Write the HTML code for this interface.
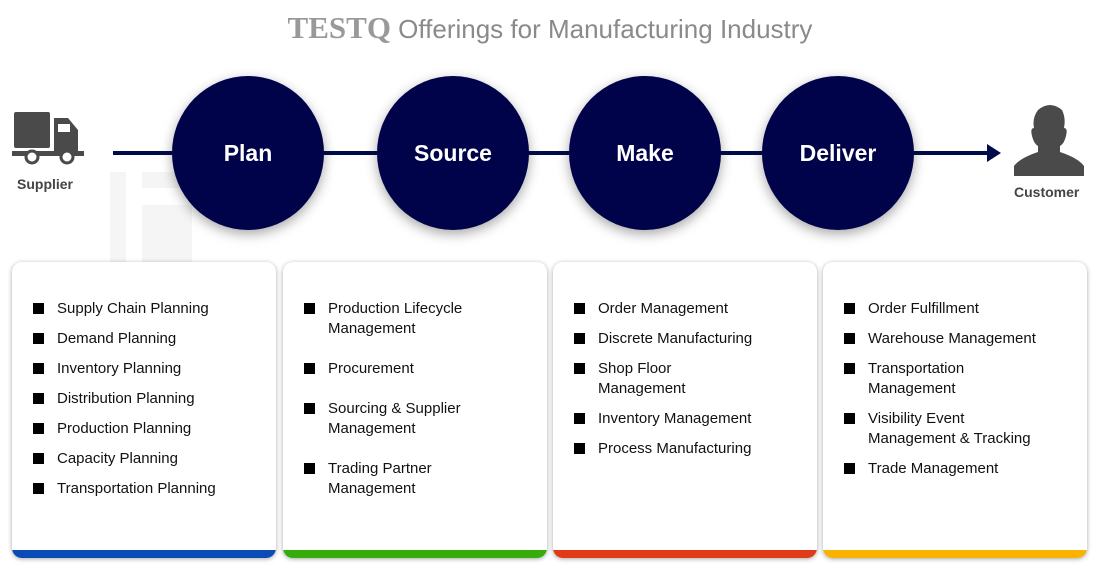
<!DOCTYPE html>
<html><head><style>
body{margin:0;width:1100px;height:585px;background:#fff;position:relative;font-family:"Liberation Sans",sans-serif;overflow:hidden}
.title{position:absolute;top:10px;left:0;width:1100px;text-align:center;color:#8a8a8a;font-size:26px}
.title b{font-family:"Liberation Serif",serif;color:#999;font-size:31px}
.line{position:absolute;left:113px;top:151px;width:877px;height:4px;background:#000b4a}
.arrow{position:absolute;left:987px;top:144px;border-left:14px solid #000b4a;border-top:9px solid transparent;border-bottom:9px solid transparent}
.c{position:absolute;top:76px;width:152px;height:154px;border-radius:50%;background:#00034a;color:#fff;font-size:23px;font-weight:bold;display:flex;align-items:center;justify-content:center;box-shadow:0 4px 12px rgba(0,0,0,.35)}
.card{position:absolute;top:262px;width:264px;height:296px;background:#fff;border-radius:10px;box-shadow:0 1px 5px rgba(0,0,0,.35);overflow:hidden}
.card .bar{position:absolute;left:0;right:0;bottom:0;height:8px}
.card ul{list-style:none;margin:0;padding:0;position:absolute;left:21px;top:37px}
.card li{position:relative;padding-left:24px;font-size:15px;line-height:20px;color:#111;margin-bottom:10px}
.card.s li{margin-bottom:20px}
.card li:before{content:"";position:absolute;left:0;top:4px;width:11px;height:11px;background:#000}
.lbl{position:absolute;font-size:14px;color:#444;font-weight:bold}
.wm{position:absolute;background:#000;opacity:.04}
</style></head><body>
<div class="title"><b>TESTQ</b> Offerings for Manufacturing Industry</div>
<div class="wm" style="left:110px;top:172px;width:16px;height:103px"></div>
<div class="wm" style="left:142px;top:172px;width:50px;height:16px"></div>
<div class="wm" style="left:142px;top:205px;width:50px;height:70px"></div>
<div class="line"></div><div class="arrow"></div>
<svg style="position:absolute;left:12px;top:110px" width="72" height="56" viewBox="0 0 72 56">
<rect x="2" y="2" width="36" height="36" rx="2" fill="#4a4a4a"/>
<path d="M42 8h14l10 12v22H42z" fill="#4a4a4a"/><rect x="46" y="14" width="12" height="8" fill="#fff"/>
<rect x="0" y="41" width="72" height="5" fill="#4a4a4a"/>
<circle cx="20" cy="47" r="6" fill="#fff" stroke="#4a4a4a" stroke-width="3"/>
<circle cx="55" cy="47" r="6" fill="#fff" stroke="#4a4a4a" stroke-width="3"/></svg>
<div class="lbl" style="left:17px;top:176px">Supplier</div>
<svg style="position:absolute;left:1012px;top:102px" width="76" height="76" viewBox="0 0 76 76">
<path d="M26 8q12-10 24 0q4 8 2 18q4 0 2 8q-2 8-6 10v6q18 6 24 14v10H2V64q6-8 24-14v-6q-4-2-6-10q-2-8 2-8q-2-10 4-18z" fill="#4a4a4a"/></svg>
<div class="lbl" style="left:1014px;top:184px">Customer</div>
<div class="c" style="left:172px">Plan</div>
<div class="c" style="left:377px">Source</div>
<div class="c" style="left:569px">Make</div>
<div class="c" style="left:762px">Deliver</div>
<div class="card" style="left:12px"><ul><li>Supply Chain Planning</li><li>Demand Planning</li><li>Inventory Planning</li><li>Distribution Planning</li><li>Production Planning</li><li>Capacity Planning</li><li>Transportation Planning</li></ul><div class="bar" style="background:#0a4bb5"></div></div>
<div class="card s" style="left:283px"><ul><li>Production Lifecycle<br>Management</li><li>Procurement</li><li>Sourcing &amp; Supplier<br>Management</li><li>Trading Partner<br>Management</li></ul><div class="bar" style="background:#36ac0a"></div></div>
<div class="card" style="left:553px"><ul><li>Order Management</li><li>Discrete Manufacturing</li><li>Shop Floor<br>Management</li><li>Inventory Management</li><li>Process Manufacturing</li></ul><div class="bar" style="background:#e03a17"></div></div>
<div class="card" style="left:823px"><ul><li>Order Fulfillment</li><li>Warehouse Management</li><li>Transportation<br>Management</li><li>Visibility Event<br>Management &amp; Tracking</li><li>Trade Management</li></ul><div class="bar" style="background:#f9b200"></div></div>
</body></html>
